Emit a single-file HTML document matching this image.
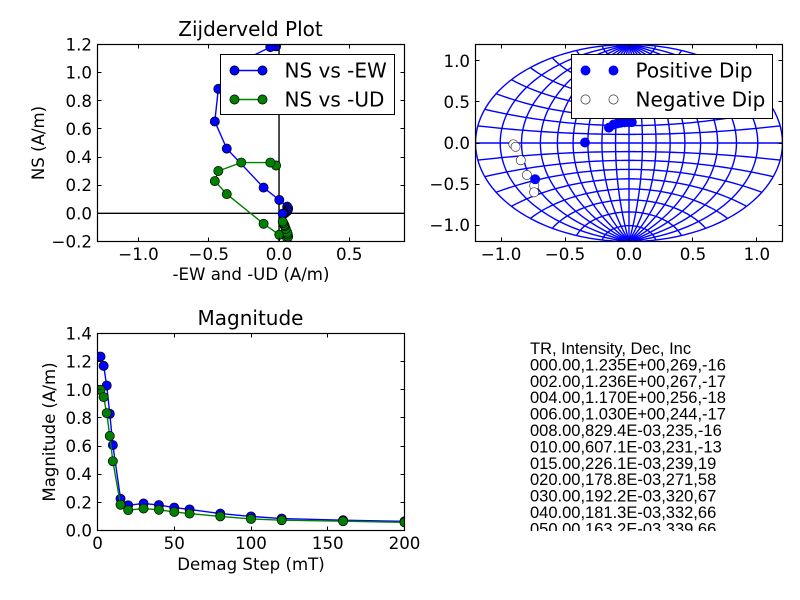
<!DOCTYPE html>
<html lang="en">
<head>
<meta charset="utf-8">
<title>Zijderveld Plot</title>
<style>
html,body{margin:0;padding:0;background:#fff;}
svg{display:block;font-family:"DejaVu Sans",sans-serif;}
text{fill:#000;}
.tick-label{font-size:16.67px;}
.axis-title{font-size:16.6px;}
.plot-title{font-size:20px;}
.legend-text{font-size:20px;}
.readout{font-family:"Liberation Sans",sans-serif;font-size:16.5px;}
</style>
</head>
<body>
<svg id="fig" xmlns="http://www.w3.org/2000/svg" width="800" height="600" viewBox="0 0 800 600">
  <defs>
    <clipPath id="clip-zij"><rect x="97.5" y="44.5" width="307" height="197"/></clipPath>
    <clipPath id="clip-net"><rect x="475.5" y="44.5" width="307" height="197"/></clipPath>
    <clipPath id="clip-mag"><rect x="97.5" y="333.5" width="307" height="197"/></clipPath>
    <clipPath id="clip-readout"><rect x="500" y="333" width="290" height="198"/></clipPath>
  </defs>
  <rect x="0" y="0" width="800" height="600" fill="#fff"/>
  <g id="layer-zij"></g>
  <g id="layer-net"></g>
  <g id="layer-mag"></g>

  <text class="plot-title" x="250.5" y="36" text-anchor="middle">Zijderveld Plot</text>
  <text class="axis-title" x="251" y="280" text-anchor="middle">-EW and -UD (A/m)</text>
  <text class="axis-title" transform="translate(44,143) rotate(-90)" text-anchor="middle">NS (A/m)</text>

  <g>
    <rect x="220.5" y="54.5" width="174" height="60" fill="#fff" stroke="#000" stroke-width="1"/>
    <g>
      <line x1="234.5" y1="70.5" x2="262.5" y2="70.5" stroke="#0000ff" stroke-width="1.4"/>
      <circle cx="234.5" cy="70.5" r="4.6" fill="#0000ff" stroke="#000" stroke-width="0.7"/>
      <circle cx="262.5" cy="70.5" r="4.6" fill="#0000ff" stroke="#000" stroke-width="0.7"/>
      <text class="legend-text" x="284.5" y="77.5">NS vs -EW</text>
    </g>
    <g>
      <line x1="234.5" y1="99.5" x2="262.5" y2="99.5" stroke="#008000" stroke-width="1.4"/>
      <circle cx="234.5" cy="99.5" r="4.6" fill="#008000" stroke="#000" stroke-width="0.7"/>
      <circle cx="262.5" cy="99.5" r="4.6" fill="#008000" stroke="#000" stroke-width="0.7"/>
      <text class="legend-text" x="284.5" y="106.5">NS vs -UD</text>
    </g>
  </g>

  <g>
    <rect x="571.5" y="54.5" width="201" height="64" fill="#fff" stroke="#000" stroke-width="1"/>
    <g>
      <circle cx="585.5" cy="70.5" r="4.6" fill="#0000ff" stroke="#0000ff" stroke-width="0.7"/>
      <circle cx="613.5" cy="70.5" r="4.6" fill="#0000ff" stroke="#0000ff" stroke-width="0.7"/>
      <text class="legend-text" x="635.5" y="77.5">Positive Dip</text>
    </g>
    <g>
      <circle cx="585.5" cy="99.5" r="4.6" fill="#fff" stroke="#333" stroke-width="0.7"/>
      <circle cx="613.5" cy="99.5" r="4.6" fill="#fff" stroke="#333" stroke-width="0.7"/>
      <text class="legend-text" x="635.5" y="106.5">Negative Dip</text>
    </g>
  </g>

  <text class="plot-title" x="250.5" y="325" text-anchor="middle">Magnitude</text>
  <text class="axis-title" x="251" y="570" text-anchor="middle">Demag Step (mT)</text>
  <text class="axis-title" transform="translate(55,432) rotate(-90)" text-anchor="middle">Magnitude (A/m)</text>

  <g clip-path="url(#clip-readout)">
    <text class="readout" x="530" y="354">TR, Intensity, Dec, Inc</text>
    <text class="readout" x="530" y="370.4">000.00,1.235E+00,269,-16</text>
    <text class="readout" x="530" y="386.8">002.00,1.236E+00,267,-17</text>
    <text class="readout" x="530" y="403.2">004.00,1.170E+00,256,-18</text>
    <text class="readout" x="530" y="419.6">006.00,1.030E+00,244,-17</text>
    <text class="readout" x="530" y="436">008.00,829.4E-03,235,-16</text>
    <text class="readout" x="530" y="452.4">010.00,607.1E-03,231,-13</text>
    <text class="readout" x="530" y="468.8">015.00,226.1E-03,239,19</text>
    <text class="readout" x="530" y="485.2">020.00,178.8E-03,271,58</text>
    <text class="readout" x="530" y="501.6">030.00,192.2E-03,320,67</text>
    <text class="readout" x="530" y="518">040.00,181.3E-03,332,66</text>
    <text class="readout" x="530" y="534.4">050.00,163.2E-03,339,66</text>
  </g>
</svg>
<script>
// Zijderveld data
var zijHorizontal = [-0.021, -0.062, -0.269, -0.432, -0.457, -0.372, -0.110, 0.002, 0.058, 0.065, 0.062, 0.059, 0.048, 0.041, 0.037, 0.031, 0.026];
var zijNorth = [1.187, 1.181, 1.080, 0.885, 0.653, 0.460, 0.183, 0.095, 0.048, 0.035, 0.024, 0.016, 0.007, 0.001, 0.000, -0.002, -0.002];
var zijVertical = [0.340, 0.361, 0.361, 0.301, 0.229, 0.137, -0.074, -0.152, -0.177, -0.166, -0.149, -0.137, -0.110, -0.091, -0.082, -0.069, -0.059];
var zijXTicks = [-1.0, -0.5, 0.0, 0.5];
var zijYTicks = [-0.2, 0.0, 0.2, 0.4, 0.6, 0.8, 1.0, 1.2];

// Stereonet data
var netDec = [269, 267, 256, 244, 235, 231, 239, 271, 320, 332, 339, 345, 352, 358, 0, 3, 5];
var netInc = [-16, -17, -18, -17, -16, -13, 19, 58, 67, 66, 66, 66, 66, 66, 66, 66, 66];
var netLatitudes = [-80, -70, -60, -50, -40, -30, -20, -10, 0, 10, 20, 30, 40, 50, 60, 70, 80];
var netLongitudes = [-90, -80, -70, -60, -50, -40, -30, -20, -10, 0, 10, 20, 30, 40, 50, 60, 70, 80, 90];
var netXTicks = [-1.0, -0.5, 0.0, 0.5, 1.0];
var netYTicks = [-1.0, -0.5, 0.0, 0.5, 1.0];

// Magnitude data
var magSteps = [0, 2, 4, 6, 8, 10, 15, 20, 30, 40, 50, 60, 80, 100, 120, 160, 200];
var magTotal = [1.235, 1.236, 1.170, 1.030, 0.829, 0.607, 0.226, 0.179, 0.192, 0.181, 0.163, 0.150, 0.120, 0.100, 0.085, 0.073, 0.065];
var magRemaining = [1.000, 1.000, 0.948, 0.834, 0.672, 0.492, 0.183, 0.145, 0.156, 0.147, 0.132, 0.120, 0.100, 0.082, 0.073, 0.066, 0.058];
var magXTicks = [0, 50, 100, 150, 200];
var magYTicks = [0.0, 0.2, 0.4, 0.6, 0.8, 1.0, 1.2, 1.4];

var NS = 'http://www.w3.org/2000/svg';
function mk(tag, attrs, parent) {
  var el = document.createElementNS(NS, tag);
  for (var k in attrs) { el.setAttribute(k, attrs[k]); }
  parent.appendChild(el);
  return el;
}
function scale(d0, d1, r0, r1) {
  return function (v) { return r0 + (v - d0) * (r1 - r0) / (d1 - d0); };
}
function fmt(v, dec) {
  var s = Math.abs(v).toFixed(dec);
  return (v < 0 ? '\u2212' : '') + s;
}

function drawTicks(parent, x, y, box, xTicks, yTicks, dec, xDec, prefix) {
  xTicks.forEach(function (t) {
    var px = Math.round(x(t) - 0.5) + 0.5;
    var a = mk('line', { x1: px, x2: px, y1: box.b, y2: box.b - 4, stroke: '#000', 'stroke-width': 1 }, parent);
    
    
    var b = mk('line', { x1: px, x2: px, y1: box.t, y2: box.t + 4, stroke: '#000', 'stroke-width': 1 }, parent);
    
    
    var l = mk('text', { x: x(t), y: box.b + 18.5, 'text-anchor': 'middle', 'class': 'tick-label' }, parent);
    
    
    l.textContent = fmt(t, xDec);
  });
  yTicks.forEach(function (t) {
    var py = Math.round(y(t) - 0.5) + 0.5;
    var a = mk('line', { x1: box.l, x2: box.l + 4, y1: py, y2: py, stroke: '#000', 'stroke-width': 1 }, parent);
    
    
    var b = mk('line', { x1: box.r, x2: box.r - 4, y1: py, y2: py, stroke: '#000', 'stroke-width': 1 }, parent);
    
    
    var l = mk('text', { x: box.l - 5.5, y: y(t) + 6, 'text-anchor': 'end', 'class': 'tick-label' }, parent);
    
    
    l.textContent = fmt(t, dec);
  });
}
function drawFrame(parent, box, prefix) {
  var r = mk('rect', { x: box.l, y: box.t, width: box.r - box.l, height: box.b - box.t, fill: 'none', stroke: '#000', 'stroke-width': 1.2 }, parent);
  
  
}
function drawSeries(parent, xs, ys, x, y, color, name) {
  var pts = xs.map(function (v, i) { return x(v).toFixed(2) + ',' + y(ys[i]).toFixed(2); }).join(' ');
  var line = mk('polyline', { points: pts, fill: 'none', stroke: color, 'stroke-width': 1.4 }, parent);
  
  
  xs.forEach(function (v, i) {
    var c = mk('circle', { cx: x(v).toFixed(2), cy: y(ys[i]).toFixed(2), r: 4.6, fill: color, stroke: '#000', 'stroke-width': 0.7 }, parent);
    
    
  });
}

// Zijderveld panel
(function () {
  var parent = document.getElementById('layer-zij');
  var box = { l: 97.5, r: 404.5, t: 44.5, b: 241.5 };
  var x = scale(-1.292, 0.893, box.l, box.r);
  var y = scale(-0.2, 1.2, box.b, box.t);
  var g = mk('g', { 'clip-path': 'url(#clip-zij)' }, parent);
  
  
  var h = mk('line', { x1: box.l, x2: box.r, y1: y(0), y2: y(0), stroke: '#000', 'stroke-width': 1.4 }, g);
  
  
  var v = mk('line', { x1: x(0), x2: x(0), y1: box.t, y2: box.b, stroke: '#000', 'stroke-width': 1.4 }, g);
  
  
  drawSeries(g, zijHorizontal, zijNorth, x, y, '#0000ff', 'ns-vs-ew');
  drawSeries(g, zijHorizontal, zijVertical, x, y, '#008000', 'ns-vs-ud');
  drawTicks(parent, x, y, box, zijXTicks, zijYTicks, 1, 1, 'zijderveld');
  drawFrame(parent, box, 'zijderveld');
})();

// Stereonet panel
(function () {
  var parent = document.getElementById('layer-net');
  var box = { l: 475.5, r: 782.5, t: 44.5, b: 241.5 };
  var x = scale(-1.2, 1.2, box.l, box.r);
  var y = scale(-1.2, 1.2, box.b, box.t);
  var g = mk('g', { 'clip-path': 'url(#clip-net)' }, parent);
  
  
  var R = 1.2, rad = Math.PI / 180;
  function project(lat, lon) {
    var cp = Math.cos(lat * rad), k = R / (1 + cp * Math.cos(lon * rad));
    return x(k * cp * Math.sin(lon * rad)).toFixed(2) + ',' + y(k * Math.sin(lat * rad)).toFixed(2);
  }
  netLatitudes.forEach(function (lat) {
    var p = [];
    for (var lon = -90; lon <= 90; lon += 3) { p.push(project(lat, lon)); }
    var e = mk('polyline', { points: p.join(' '), fill: 'none', stroke: '#0000ff', 'stroke-width': 1.4 }, g);
    
    
  });
  netLongitudes.forEach(function (lon) {
    var p = [];
    for (var lat = -90; lat <= 90; lat += 3) { p.push(project(lat, lon)); }
    var e = mk('polyline', { points: p.join(' '), fill: 'none', stroke: '#0000ff', 'stroke-width': 1.4 }, g);
    
    
  });
  netDec.forEach(function (d, i) {
    var inc = netInc[i];
    var r = R * Math.tan((90 - Math.abs(inc)) / 2 * rad);
    var px = x(r * Math.sin(d * rad)), py = y(r * Math.cos(d * rad));
    var pos = inc >= 0;
    var c = mk('circle', { cx: px.toFixed(2), cy: py.toFixed(2), r: 4.6, fill: pos ? '#0000ff' : '#fff', stroke: pos ? '#0000ff' : '#333', 'stroke-width': 0.7 }, g);
    
    
  });
  drawTicks(parent, x, y, box, netXTicks, netYTicks, 1, 1, 'stereonet');
  drawFrame(parent, box, 'stereonet');
})();

// Magnitude panel
(function () {
  var parent = document.getElementById('layer-mag');
  var box = { l: 97.5, r: 404.5, t: 333.5, b: 530.5 };
  var x = scale(0, 200, box.l, box.r);
  var y = scale(0, 1.4, box.b, box.t);
  var g = mk('g', { 'clip-path': 'url(#clip-mag)' }, parent);
  
  
  drawSeries(g, magSteps, magTotal, x, y, '#0000ff', 'magnitude-total');
  drawSeries(g, magSteps, magRemaining, x, y, '#008000', 'magnitude-remaining');
  drawTicks(parent, x, y, box, magXTicks, magYTicks, 1, 0, 'magnitude');
  drawFrame(parent, box, 'magnitude');
})();
</script>
</body>
</html>
